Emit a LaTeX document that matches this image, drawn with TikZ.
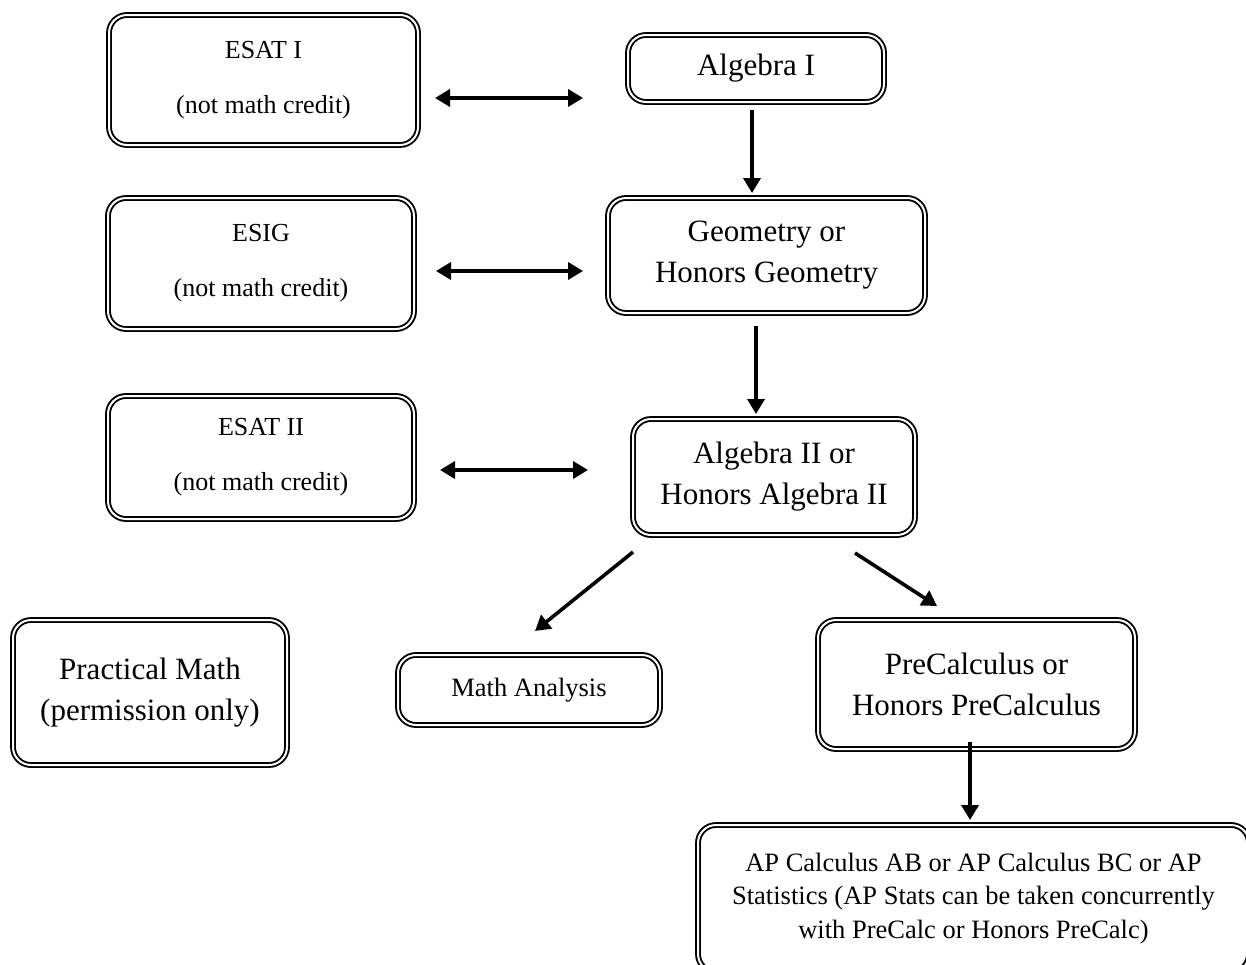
\documentclass[tikz,border=0pt]{standalone}
\usepackage{fontspec}
\setmainfont{Liberation Serif}
\usetikzlibrary{arrows.meta}

\begin{document}
\begin{tikzpicture}[x=1pt,y=-1pt,
coursebox/.style={rectangle, draw, line width=1.9pt, double, double distance=2pt, rounded corners=18pt, inner sep=0pt, outer sep=0pt, align=center},
bigtext/.style={font=\fontsize{31}{41}\selectfont},
smalltext/.style={font=\fontsize{26}{55}\selectfont},
flow/.style={line width=3.6pt, -{Triangle[length=15pt,width=17pt]}},
twoway/.style={line width=3.6pt, {Triangle[length=15pt,width=17pt]}-{Triangle[length=15pt,width=17pt]}},
]
\useasboundingbox (0,0) rectangle (1246,964);
\clip (0,0) rectangle (1246,964);

%Nodes
\node[coursebox, smalltext, minimum width=309, minimum height=130] (esat1) at (263.5,80)  {ESAT I\\(not math credit)};
\node[coursebox, bigtext,   minimum width=256, minimum height=67]  (alg1)  at (756,68.5)  {Algebra I};
\node[coursebox, smalltext, minimum width=306, minimum height=131] (esig)  at (261,263.5) {ESIG\\(not math credit)};
\node[coursebox, bigtext,   minimum width=317, minimum height=115] (geom)  at (766.5,255.5) {Geometry or\\Honors Geometry};
\node[coursebox, smalltext, minimum width=306, minimum height=123] (esat2) at (261,457.5) {ESAT II\\(not math credit)};
\node[coursebox, bigtext,   minimum width=282, minimum height=116] (alg2)  at (774,477)   {Algebra II or\\Honors Algebra II};
\node[coursebox, bigtext,   minimum width=274, minimum height=145] (prac)  at (150,692.5) {Practical Math\\(permission only)};
\node[coursebox, font=\fontsize{26.5}{30}\selectfont, minimum width=262, minimum height=70] (mana) at (529,690) {Math Analysis};
\node[coursebox, bigtext,   minimum width=317, minimum height=129] (prec)  at (976.5,684.5) {PreCalculus or\\Honors PreCalculus};
\node[coursebox, font=\fontsize{26.5}{33.5}\selectfont, minimum width=551, minimum height=147] (ap) at (973.5,898.5)
  {AP Calculus AB or AP Calculus BC or AP\\Statistics (AP Stats can be taken concurrently\\with PreCalc or Honors PreCalc)};

%Lines
\draw[twoway] ([shift={(17,18)}]esat1.east) -- ([shift={(-45,29.5)}]alg1.west);
\draw[twoway] ([shift={(22,7.5)}]esig.east) -- ([shift={(-25,15.5)}]geom.west);
\draw[twoway] ([shift={(26,12.5)}]esat2.east) -- ([shift={(-45,-7)}]alg2.west);
\draw[flow] ([shift={(-4,8)}]alg1.south) -- ([shift={(-14.5,-5)}]geom.north);
\draw[flow] ([shift={(-10.5,13)}]geom.south) -- ([shift={(-18,-5)}]alg2.north);
\draw[flow] ([shift={(-141,17)}]alg2.south) -- ([shift={(6,-24)}]mana.north);
\draw[flow] ([shift={(81,18)}]alg2.south) -- ([shift={(-39.5,-14)}]prec.north);
\draw[flow] ([shift={(-6.5,-7)}]prec.south) -- ([shift={(-3.5,-5)}]ap.north);
\end{tikzpicture}
\end{document}
